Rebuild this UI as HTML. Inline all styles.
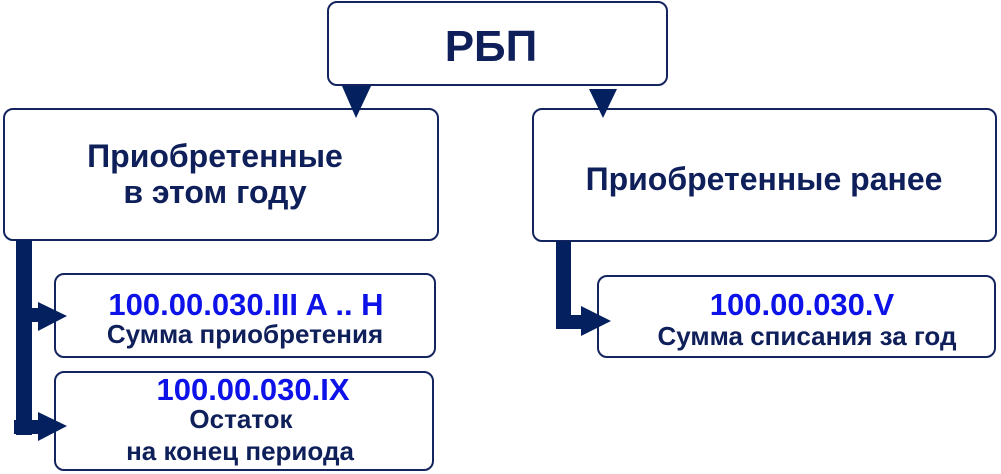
<!DOCTYPE html>
<html><head><meta charset="utf-8"><style>
body{margin:0;width:1001px;height:474px;background:#fff;position:relative;overflow:hidden;font-family:"Liberation Sans",sans-serif;font-weight:bold}
.b{position:absolute;box-sizing:border-box;border:2.5px solid #13245f;border-radius:10px;background:#fff}
.t{position:absolute;width:600px;text-align:center;white-space:nowrap;line-height:1;color:#0e1f5a}
.bl{color:#0c12e8}
</style></head><body>
<div class="b" style="left:327px;top:1px;width:341px;height:85px"></div>
<div class="b" style="left:3px;top:108px;width:436px;height:133px"></div>
<div class="b" style="left:532px;top:108px;width:465px;height:134px"></div>
<div class="b" style="left:54px;top:273px;width:382px;height:85px"></div>
<div class="b" style="left:54px;top:371px;width:380px;height:100px"></div>
<div class="b" style="left:597px;top:275px;width:399px;height:83px"></div>
<svg width="1001" height="474" style="position:absolute;left:0;top:0">
<g fill="#05205e">
<polygon points="342,86 371,86 356,118"/>
<polygon points="589,89 617,89 603,118"/>
<rect x="16" y="240" width="16" height="195"/>
<rect x="16" y="308" width="26" height="14"/>
<polygon points="38,302 67,316 38,331"/>
<rect x="14" y="420" width="28" height="14"/>
<polygon points="38,412 67,426 38,441"/>
<rect x="556" y="241" width="15" height="88"/>
<rect x="556" y="315" width="30" height="14"/>
<polygon points="581,306 611,321 581,336"/>
</g>
</svg>
<div class="t" style="left:191px;top:25px;font-size:44px">РБП</div>
<div class="t" style="left:-85px;top:140px;font-size:32px">Приобретенные</div>
<div class="t" style="left:-85px;top:176px;font-size:32px">в этом году</div>
<div class="t" style="left:464px;top:163px;font-size:32px">Приобретенные ранее</div>
<div class="t bl" style="left:-54px;top:289px;font-size:31px">100.00.030.III A .. H</div>
<div class="t" style="left:-55px;top:321px;font-size:26px">Сумма приобретения</div>
<div class="t bl" style="left:-47px;top:374px;font-size:31px">100.00.030.IX</div>
<div class="t" style="left:-59px;top:406px;font-size:26px">Остаток</div>
<div class="t" style="left:-60px;top:438px;font-size:26px">на конец периода</div>
<div class="t bl" style="left:502px;top:289px;font-size:31px">100.00.030.V</div>
<div class="t" style="left:507px;top:323px;font-size:26px">Сумма списания за год</div>
</body></html>
